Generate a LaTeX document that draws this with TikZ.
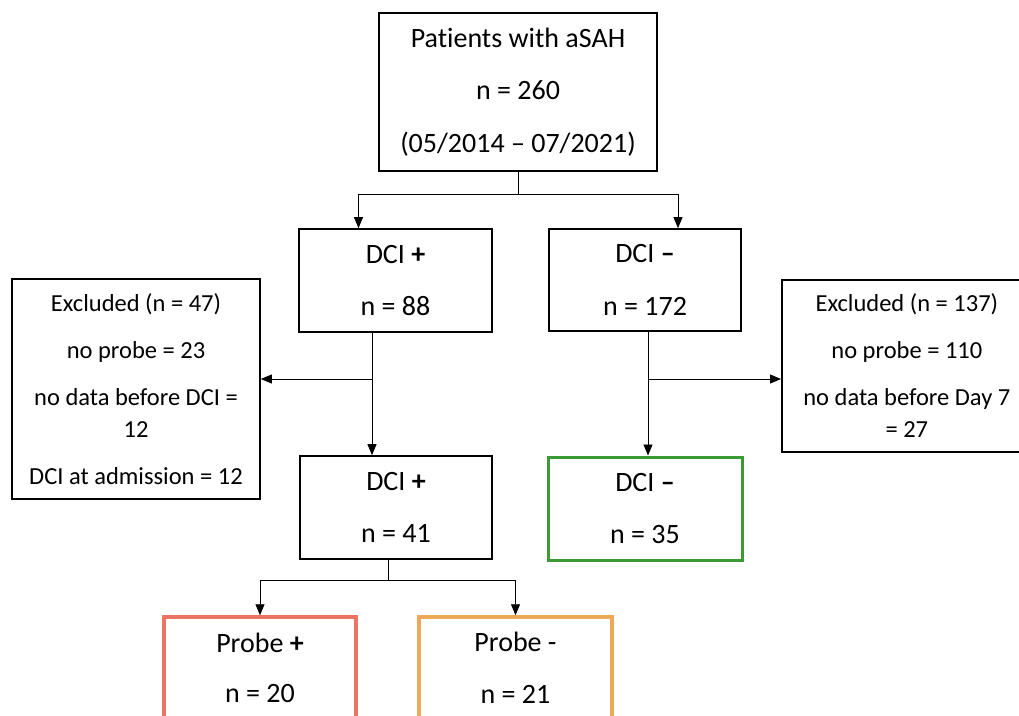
\documentclass[tikz,border=0pt]{standalone}
\usepackage{fontspec}
\setmainfont{Carlito}[Ligatures=NoCommon]
\usetikzlibrary{arrows.meta}
\definecolor{salmon}{RGB}{236,116,96}
\definecolor{orng}{RGB}{236,170,88}
\definecolor{grn}{RGB}{60,154,52}
\tikzset{
  box/.style={draw=black, line width=1.7pt, align=center, inner sep=0pt, font=\fontsize{28}{52.5}\selectfont},
  exbox/.style={draw=black, line width=1.7pt, align=center, inner sep=0pt, font=\fontsize{24.5}{32}\selectfont},
  conn/.style={line width=0.9pt},
  arr/.style={conn, -{Triangle[length=11pt,width=9pt]}},
}
\begin{document}
\begin{tikzpicture}[x=1pt,y=-1pt]
\useasboundingbox (0,0) rectangle (1019,715);
\clip (0,0) rectangle (1019,715);
\fill[white] (0,0) rectangle (1019,715);
% boxes
\node[box, minimum width=278, minimum height=158] (top) at (518,92) {Patients with aSAH\\n = 260\\(05/2014 – 07/2021)};
\node[box, minimum width=193, minimum height=103] (dcip) at (395.5,280.5) {DCI \textbf{+}\\n = 88};
\node[box, minimum width=192, minimum height=102] (dcim) at (645,280) {DCI \textbf{–}\\n = 172};
\node[exbox, minimum width=248, minimum height=220] (exl) at (136,389) {Excluded (n = 47)\\[15pt]no probe = 23\\[15pt]no data before DCI =\\12\\[15pt]DCI at admission = 12};
\node[exbox, minimum width=250, minimum height=172, anchor=west] (exr) at (781,366) {Excluded (n = 137)\\[15pt]no probe = 110\\[15pt]no data before Day 7\\= 27};
\node[box, minimum width=192, minimum height=103] (dcip2) at (396,507.5) {DCI \textbf{+}\\n = 41};
\node[box, draw=grn, line width=3pt, minimum width=194, minimum height=103] (dcim2) at (645,508.5) {DCI \textbf{–}\\n = 35};
\node[box, draw=salmon, line width=3.5pt, minimum width=192, minimum height=102, font=\fontsize{28}{50}\selectfont] (prp) at (260,668) {Probe \textbf{+}\\n = 20};
\node[box, draw=orng, line width=3.5pt, minimum width=193, minimum height=102, font=\fontsize{28}{52}\selectfont] (prm) at (515.5,668) {Probe -\\n = 21};
% connectors
\coordinate (j1) at (518,194);
\draw[conn] (top.south) -- (j1);
\draw[arr] (j1) -| ([xshift=-37pt]dcip.north);
\draw[arr] (j1) -| ([xshift=33pt]dcim.north);
\coordinate (j2) at (372,379);
\draw[arr] (dcip.south -| j2) -- (dcip2.north -| j2);
\draw[arr] (j2) -- (exl.east |- j2);
\coordinate (j3) at (648,379);
\draw[arr] (dcim.south -| j3) -- (dcim2.north -| j3);
\draw[arr] (j3) -- (exr.west |- j3);
\coordinate (j4) at (388,580);
\draw[conn] (dcip2.south -| j4) -- (j4);
\draw[arr] (j4) -| (prp.north);
\draw[arr] (j4) -| (prm.north);
\end{tikzpicture}
\end{document}
